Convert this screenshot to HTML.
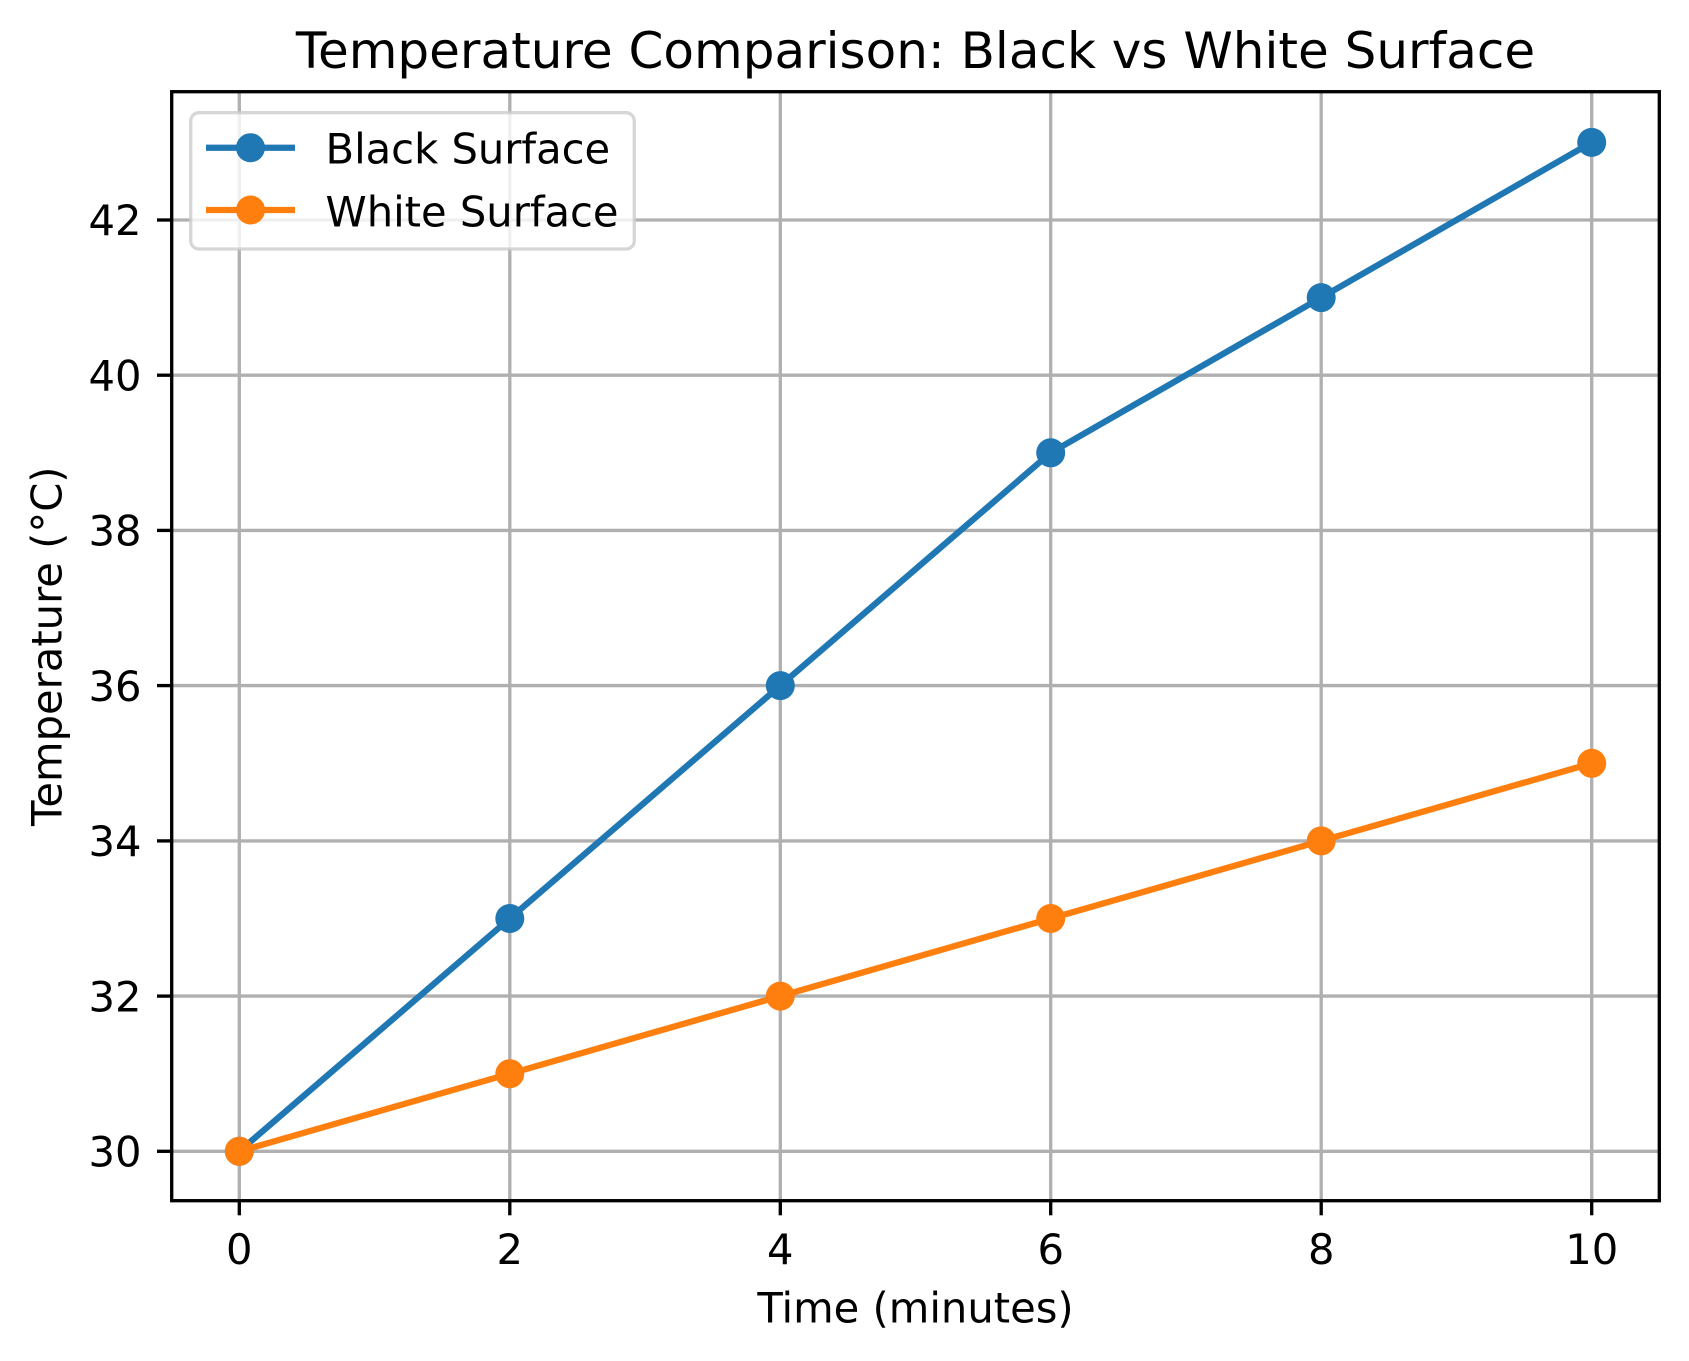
<!DOCTYPE html>
<html>
<head>
<meta charset="utf-8">
<style>
html,body{margin:0;padding:0;background:#fff;}
svg{display:block;}
text{font-family:"DejaVu Sans","Liberation Sans",sans-serif;fill:#000;}
</style>
</head>
<body>
<svg width="1689" height="1361" viewBox="0 0 1689 1361" xmlns="http://www.w3.org/2000/svg">
<rect x="0" y="0" width="1689" height="1361" fill="#fff"/>
<!-- grid -->
<g stroke="#b0b0b0" stroke-width="3.33" fill="none">
<line x1="239.3" y1="91.7" x2="239.3" y2="1200.7"/>
<line x1="509.8" y1="91.7" x2="509.8" y2="1200.7"/>
<line x1="780.3" y1="91.7" x2="780.3" y2="1200.7"/>
<line x1="1050.7" y1="91.7" x2="1050.7" y2="1200.7"/>
<line x1="1321.2" y1="91.7" x2="1321.2" y2="1200.7"/>
<line x1="1591.7" y1="91.7" x2="1591.7" y2="1200.7"/>
<line x1="171.7" y1="1151.3" x2="1659.3" y2="1151.3"/>
<line x1="171.7" y1="996.1" x2="1659.3" y2="996.1"/>
<line x1="171.7" y1="840.9" x2="1659.3" y2="840.9"/>
<line x1="171.7" y1="685.6" x2="1659.3" y2="685.6"/>
<line x1="171.7" y1="530.4" x2="1659.3" y2="530.4"/>
<line x1="171.7" y1="375.2" x2="1659.3" y2="375.2"/>
<line x1="171.7" y1="220.0" x2="1659.3" y2="220.0"/>
</g>
<!-- black surface -->
<polyline points="239.3,1151.3 509.8,918.5 780.3,685.6 1050.7,452.8 1321.2,297.6 1591.7,142.4" fill="none" stroke="#1f77b4" stroke-width="6.25" stroke-linejoin="round" stroke-linecap="square"/>
<g fill="#1f77b4">
<circle cx="239.3" cy="1151.3" r="14.5"/>
<circle cx="509.8" cy="918.5" r="14.5"/>
<circle cx="780.3" cy="685.6" r="14.5"/>
<circle cx="1050.7" cy="452.8" r="14.5"/>
<circle cx="1321.2" cy="297.6" r="14.5"/>
<circle cx="1591.7" cy="142.4" r="14.5"/>
</g>
<!-- white surface -->
<polyline points="239.3,1151.3 509.8,1073.7 780.3,996.1 1050.7,918.5 1321.2,840.9 1591.7,763.3" fill="none" stroke="#ff7f0e" stroke-width="6.25" stroke-linejoin="round" stroke-linecap="square"/>
<g fill="#ff7f0e">
<circle cx="239.3" cy="1151.3" r="14.5"/>
<circle cx="509.8" cy="1073.7" r="14.5"/>
<circle cx="780.3" cy="996.1" r="14.5"/>
<circle cx="1050.7" cy="918.5" r="14.5"/>
<circle cx="1321.2" cy="840.9" r="14.5"/>
<circle cx="1591.7" cy="763.3" r="14.5"/>
</g>
<!-- spines -->
<rect x="171.7" y="91.7" width="1487.6" height="1109" fill="none" stroke="#000" stroke-width="3.33" stroke-linejoin="miter"/>
<!-- ticks -->
<g stroke="#000" stroke-width="3.33">
<line x1="239.3" y1="1200.7" x2="239.3" y2="1215.3"/>
<line x1="509.8" y1="1200.7" x2="509.8" y2="1215.3"/>
<line x1="780.3" y1="1200.7" x2="780.3" y2="1215.3"/>
<line x1="1050.7" y1="1200.7" x2="1050.7" y2="1215.3"/>
<line x1="1321.2" y1="1200.7" x2="1321.2" y2="1215.3"/>
<line x1="1591.7" y1="1200.7" x2="1591.7" y2="1215.3"/>
<line x1="157" y1="1151.3" x2="171.7" y2="1151.3"/>
<line x1="157" y1="996.1" x2="171.7" y2="996.1"/>
<line x1="157" y1="840.9" x2="171.7" y2="840.9"/>
<line x1="157" y1="685.6" x2="171.7" y2="685.6"/>
<line x1="157" y1="530.4" x2="171.7" y2="530.4"/>
<line x1="157" y1="375.2" x2="171.7" y2="375.2"/>
<line x1="157" y1="220.0" x2="171.7" y2="220.0"/>
</g>
<!-- x tick labels -->
<g font-size="41.67" text-anchor="middle">
<text x="239.3" y="1264">0</text>
<text x="509.8" y="1264">2</text>
<text x="780.3" y="1264">4</text>
<text x="1050.7" y="1264">6</text>
<text x="1321.2" y="1264">8</text>
<text x="1591.7" y="1264">10</text>
</g>
<!-- y tick labels -->
<g font-size="41.67" text-anchor="end">
<text x="141.5" y="1166.5">30</text>
<text x="141.5" y="1011.3">32</text>
<text x="141.5" y="856.1">34</text>
<text x="141.5" y="700.8">36</text>
<text x="141.5" y="545.6">38</text>
<text x="141.5" y="390.4">40</text>
<text x="141.5" y="235.2">42</text>
</g>
<!-- labels -->
<text x="915.5" y="1322.7" font-size="41.67" text-anchor="middle">Time (minutes)</text>
<text transform="translate(61.7,646.2) rotate(-90)" font-size="41.67" text-anchor="middle">Temperature (°C)</text>
<text x="915.5" y="68" font-size="50" text-anchor="middle">Temperature Comparison: Black vs White Surface</text>
<!-- legend -->
<rect x="190.7" y="112.7" width="443.6" height="136.3" rx="8.3" ry="8.3" fill="#fff" fill-opacity="0.8" stroke="#cccccc" stroke-opacity="0.8" stroke-width="3.33"/>
<line x1="206" y1="147.7" x2="295" y2="147.7" stroke="#1f77b4" stroke-width="6.25"/>
<circle cx="250.5" cy="147.7" r="14.5" fill="#1f77b4"/>
<line x1="206" y1="210" x2="295" y2="210" stroke="#ff7f0e" stroke-width="6.25"/>
<circle cx="250.5" cy="210" r="14.5" fill="#ff7f0e"/>
<text x="325.5" y="163.3" font-size="41.67">Black Surface</text>
<text x="325.5" y="226.7" font-size="41.67">White Surface</text>
</svg>
</body>
</html>
